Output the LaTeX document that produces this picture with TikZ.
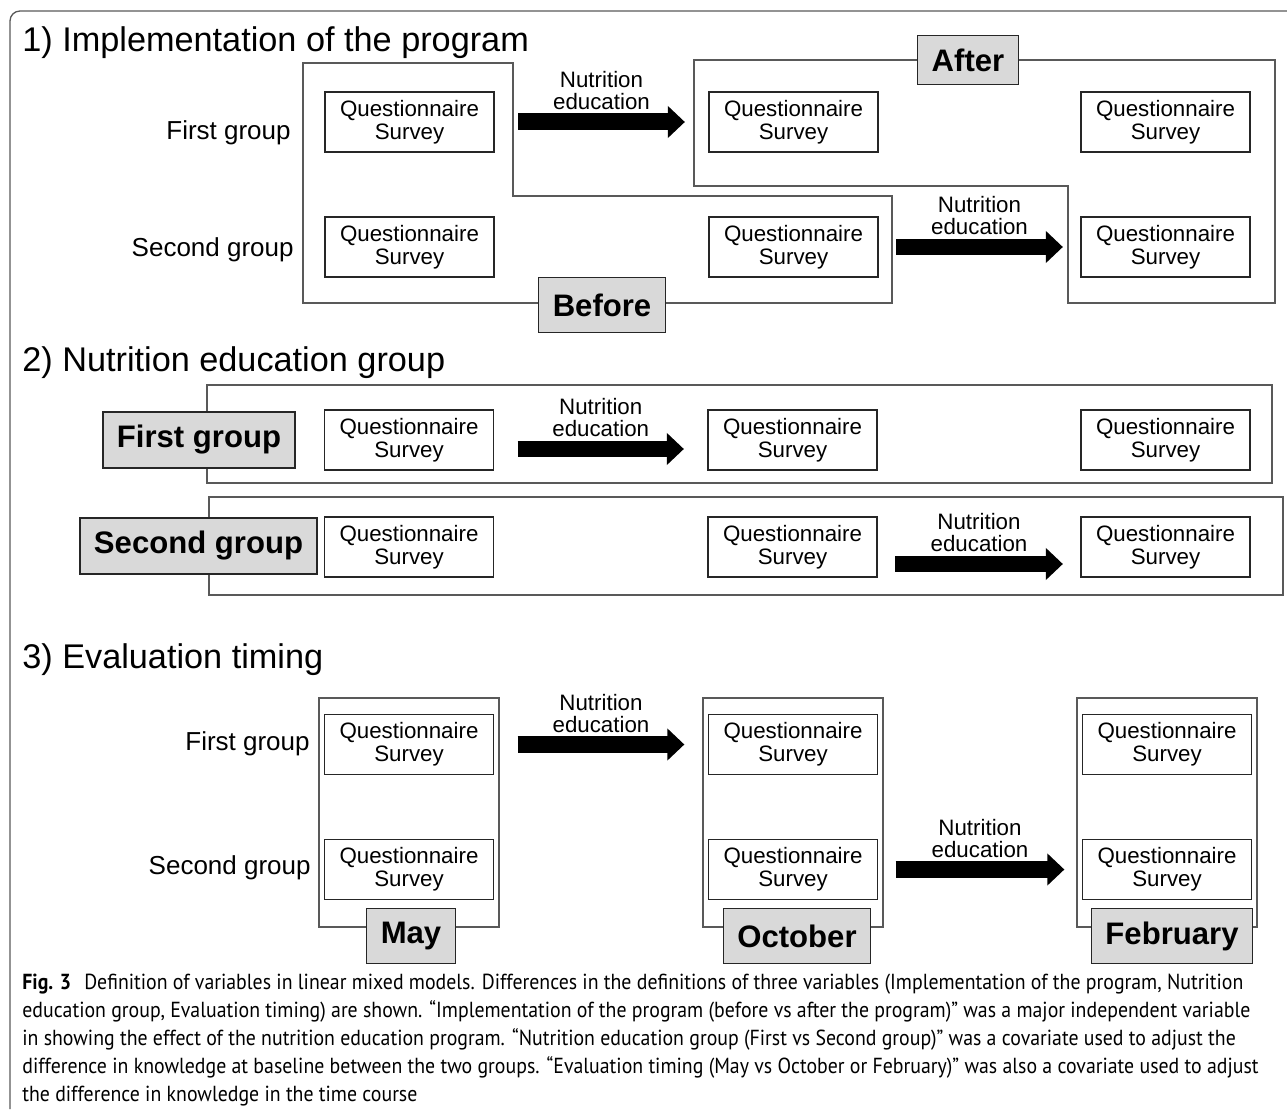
\documentclass[tikz,border=0pt]{standalone}
\usepackage{fontspec}
\setmainfont{Liberation Sans}
\newfontfamily\capfont[FakeStretch=0.91]{PT Sans}
\usetikzlibrary{arrows.meta}

\begin{document}
\begin{tikzpicture}[x=0.02cm, y=-0.02cm,
    frame/.style={draw=black!65, line width=0.75pt},
    survey/.style={draw=black!85, fill=white, line width=0.75pt, minimum width=3.38cm, minimum height=1.2cm,
        inner sep=0pt, align=center, font=\fontsize{12.7}{13.1}\selectfont},
    tag/.style={draw=black!85, fill=black!15, line width=0.75pt, minimum height=1.1cm, inner xsep=0.28cm,
        font=\bfseries\fontsize{17.7}{20}\selectfont},
    grp/.style={anchor=east, inner sep=0pt, font=\fontsize{14.8}{17}\selectfont},
    title/.style={anchor=base west, inner sep=0pt, font=\fontsize{19.5}{22}\selectfont},
    edu/.style={line width=0.34cm, -{Triangle[length=0.34cm, width=0.62cm]}, shorten <=0.47cm, shorten >=0.47cm},
    edutext/.style={midway, above=-0.05cm, align=center, font=\fontsize{12.7}{12.5}\selectfont}]
\useasboundingbox (0,0) rectangle (1287,1111);
\draw[frame, rounded corners=0.2cm] (1287,11) -- (10,11) -- (10,1109);

% 1) Implementation of the program
    \node[title] (t1) at (22,52) {1) Implementation of the program};
    \draw[frame] (303,63) -- (513,63) -- (513,196) -- (892,196) -- (892,303) -- (303,303) -- cycle;
    \draw[frame] (694,60) -- (1275,60) -- (1275,303) -- (1068,303) -- (1068,186) -- (694,186) -- cycle;
    \foreach \c/\x in {1/409.5, 2/793.5, 3/1165.5} {
        \node[survey] (a1\c) at (\x,122) {Questionnaire\\Survey};
        \node[survey] (a2\c) at (\x,247) {Questionnaire\\Survey};
    }
    \node[grp] (a1g) at (291,133) {First group};
    \node[grp] (a2g) at (294,250) {Second group};
    \node[tag] (before) at (602,305) {Before};
    \node[tag, minimum height=0.98cm] (after) at (968,60) {After};
    \draw[edu] (a11) -- (a12) node[edutext] (a1e) {Nutrition\\education};
    \draw[edu, shorten <=0.35cm, shorten >=0.35cm] (a22) -- (a23) node[edutext] (a2e) {Nutrition\\education};

% 2) Nutrition education group
    \node[title] (t2) at (22,371) {2) Nutrition education group};
    \draw[frame] (207,385) rectangle (1272,483);
    \draw[frame] (209,497) rectangle (1283,595);
    \foreach \c/\x in {1/409, 2/792.5, 3/1165.5} {
        \node[survey] (b1\c) at (\x,440) {Questionnaire\\Survey};
        \node[survey] (b2\c) at (\x,547) {Questionnaire\\Survey};
    }
    \node[tag, minimum height=1.12cm] (b1g) at (199,440) {First group};
    \node[tag, minimum height=1.12cm] (b2g) at (198.5,546) {Second group};
    \draw[edu] ([yshift=-0.18cm]b11.east) -- ([yshift=-0.18cm]b12.west) node[edutext] (b1e) {Nutrition\\education};
    \draw[edu, shorten <=0.35cm, shorten >=0.35cm] ([yshift=-0.34cm]b22.east) -- ([yshift=-0.34cm]b23.west)
        node[edutext] (b2e) {Nutrition\\education};

% 3) Evaluation timing
    \node[title] (t3) at (22,668) {3) Evaluation timing};
    \foreach \c/\x in {1/409, 2/793, 3/1167} {
        \draw[frame] (\x-90,698) rectangle (\x+90,927);
        \node[survey] (c1\c) at (\x,744.5) {Questionnaire\\Survey};
        \node[survey] (c2\c) at (\x,869.5) {Questionnaire\\Survey};
    }
    \node[grp] (c1g) at (310,744) {First group};
    \node[grp] (c2g) at (311,868) {Second group};
    \node[tag] (may) at (411,936) {May};
    \node[tag] (oct) at (797,936) {October};
    \node[tag] (feb) at (1172,936) {February};
    \draw[edu] (c11) -- (c12) node[edutext] (c1e) {Nutrition\\education};
    \draw[edu, shorten <=0.35cm, shorten >=0.35cm] (c22) -- (c23) node[edutext] (c2e) {Nutrition\\education};

% caption
    \node[anchor=north west, align=left, inner sep=0pt, font=\capfont\fontsize{12.4}{15.9}\selectfont] (cap) at (22,974)
        {\textbf{Fig. 3}\hspace{0.6em}Definition of variables in linear mixed models. Differences in the definitions of three variables (Implementation of the program, Nutrition\\
         education group, Evaluation timing) are shown. “Implementation of the program (before vs after the program)” was a major independent variable\\
         in showing the effect of the nutrition education program. “Nutrition education group (First vs Second group)” was a covariate used to adjust the\\
         difference in knowledge at baseline between the two groups. “Evaluation timing (May vs October or February)” was also a covariate used to adjust\\
         the difference in knowledge in the time course};
\end{tikzpicture}
\end{document}
